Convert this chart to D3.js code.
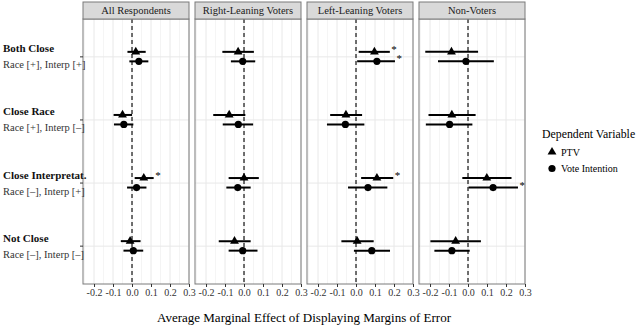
<!DOCTYPE html>
<html>
<head>
<meta charset="utf-8">
<script src="https://cdn.jsdelivr.net/npm/d3@7"></script>
<style>
  body { margin: 0; background: #fff; }
</style>
</head>
<body>
<div id="chart"></div>
<script>
const width = 640;
const height = 326;
const serif = "Liberation Serif, Times New Roman, serif";

// categories (top to bottom)
const groupTitles = ["Both Close", "Close Race", "Close Interpretat.", "Not Close"];
const groupSubs = ["Race [+], Interp [+]", "Race [+], Interp [\u2013]", "Race [\u2013], Interp [+]", "Race [\u2013], Interp [\u2013]"];
const panels = ["All Respondents", "Right-Leaning Voters", "Left-Leaning Voters", "Non-Voters"];
const xTicks = [-0.2, -0.1, 0.0, 0.1, 0.2, 0.3];
const xMinor = [-0.25, -0.15, -0.05, 0.05, 0.15, 0.25];
const seriesNames = ["PTV", "Vote Intention"];

// [estimate, lower, upper] per category, one array per panel and series
const allPTV   = [[0.020, -0.024, 0.072], [-0.050, -0.097, 0.000], [0.062, 0.014, 0.114], [-0.010, -0.059, 0.045]];
const allVote  = [[0.036, -0.014, 0.086], [-0.043, -0.095, 0.007], [0.024, -0.026, 0.076], [0.007, -0.045, 0.059]];
const rightPTV = [[-0.031, -0.114, 0.052], [-0.078, -0.162, 0.007], [0.000, -0.081, 0.078], [-0.050, -0.133, 0.035]];
const rightVote= [[-0.007, -0.069, 0.059], [-0.030, -0.112, 0.048], [-0.033, -0.093, 0.035], [-0.007, -0.081, 0.071]];
const leftPTV  = [[0.097, 0.014, 0.178], [-0.053, -0.136, 0.032], [0.110, 0.027, 0.196], [0.006, -0.077, 0.093]];
const leftVote = [[0.110, 0.006, 0.205], [-0.056, -0.153, 0.044], [0.063, -0.042, 0.165], [0.083, -0.011, 0.179]];
const nonPTV   = [[-0.087, -0.225, 0.053], [-0.085, -0.208, 0.040], [0.099, -0.030, 0.229], [-0.065, -0.198, 0.068]];
const nonVote  = [[-0.011, -0.158, 0.136], [-0.097, -0.222, 0.023], [0.132, 0.003, 0.263], [-0.085, -0.177, 0.009]];

// significance stars (1 = starred)
const allSig   = [[0, 0], [0, 0], [1, 0], [0, 0]];
const rightSig = [[0, 0], [0, 0], [0, 0], [0, 0]];
const leftSig  = [[1, 1], [0, 0], [1, 0], [0, 0]];
const nonSig   = [[0, 0], [0, 0], [0, 1], [0, 0]];

const panelData = [
  { ptv: allPTV, vote: allVote, sig: allSig },
  { ptv: rightPTV, vote: rightVote, sig: rightSig },
  { ptv: leftPTV, vote: leftVote, sig: leftSig },
  { ptv: nonPTV, vote: nonVote, sig: nonSig }
];

const panelLeft = 83, panelW = 106, panelGap = 6;
const stripTop = 2, plotTop = 19, plotBottom = 284;

const x = d3.scaleLinear().domain([-0.258, 0.3]).range([0, panelW]);
const y = d3.scalePoint().domain(d3.range(4)).range([plotTop, plotBottom]).padding(0.6);
const offset = [-5, 4.5];

const svg = d3.select("#chart").append("svg")
  .attr("width", width)
  .attr("height", height)
  .attr("viewBox", `0 0 ${width} ${height}`)
  .attr("font-family", serif);

const triangle = d3.symbol().type(d3.symbolTriangle).size(34);

panels.forEach((name, p) => {
  const g = svg.append("g").attr("transform", `translate(${panelLeft + p * (panelW + panelGap)},0)`);
  const pd = panelData[p];

  // background grid
  g.selectAll(".minor").data(xMinor).join("line")
    .attr("x1", d => x(d)).attr("x2", d => x(d))
    .attr("y1", plotTop).attr("y2", plotBottom)
    .attr("stroke", "#f1f1f1").attr("stroke-width", 0.8);
  g.selectAll(".major").data(xTicks).join("line")
    .attr("x1", d => x(d)).attr("x2", d => x(d))
    .attr("y1", plotTop).attr("y2", plotBottom)
    .attr("stroke", "#e8e8e8").attr("stroke-width", 1);
  g.selectAll(".hgrid").data(d3.range(4)).join("line")
    .attr("x1", 0).attr("x2", panelW)
    .attr("y1", d => y(d)).attr("y2", d => y(d))
    .attr("stroke", "#e8e8e8").attr("stroke-width", 1);

  // zero line
  g.append("line")
    .attr("x1", x(0)).attr("x2", x(0))
    .attr("y1", plotTop).attr("y2", plotBottom)
    .attr("stroke", "#000").attr("stroke-width", 1.1)
    .attr("stroke-dasharray", "4,3");

  [pd.ptv, pd.vote].forEach((ser, s) => {
    ser.forEach((d, i) => {
      const yy = y(i) + offset[s];
      g.append("line")
        .attr("x1", x(d[1])).attr("x2", x(d[2]))
        .attr("y1", yy).attr("y2", yy)
        .attr("stroke", "#000").attr("stroke-width", 2);
      if (s === 0) {
        g.append("path").attr("d", triangle)
          .attr("transform", `translate(${x(d[0])},${yy})`)
          .attr("fill", "#000");
      } else {
        g.append("circle").attr("cx", x(d[0])).attr("cy", yy).attr("r", 3.6).attr("fill", "#000");
      }
      if (pd.sig[i][s]) {
        g.append("text")
          .attr("x", x(d[2]) + 1.5).attr("y", yy + 1)
          .attr("font-size", 11).attr("font-family", serif).attr("fill", "#000").text("*");
      }
    });
  });

  // panel border
  g.append("rect")
    .attr("x", 0).attr("y", plotTop).attr("width", panelW).attr("height", plotBottom - plotTop)
    .attr("fill", "none").attr("stroke", "#7a7a7a").attr("stroke-width", 1);

  // strip
  g.append("rect")
    .attr("x", 0).attr("y", stripTop).attr("width", panelW).attr("height", plotTop - stripTop)
    .attr("fill", "#d9d9d9").attr("stroke", "#7a7a7a").attr("stroke-width", 1);
  g.append("text")
    .attr("x", panelW / 2).attr("y", (stripTop + plotTop) / 2 + 3.8)
    .attr("text-anchor", "middle").attr("font-size", 10.5).attr("fill", "#1a1a1a")
    .attr("font-family", serif)
    .text(name);

  // x axis
  const ax = g.append("g").attr("transform", `translate(0,${plotBottom})`)
    .call(d3.axisBottom(x).tickValues(xTicks).tickSize(3).tickPadding(2).tickFormat(d => d.toFixed(1)));
  ax.attr("font-family", serif);
  ax.select(".domain").remove();
  ax.selectAll(".tick line").attr("stroke", "#333");
  ax.selectAll("text").attr("font-size", 10).attr("fill", "#333")
    .attr("font-family", serif);
});

// y axis labels
const ya = svg.append("g");
d3.range(4).forEach(i => {
  ya.append("line")
    .attr("x1", panelLeft - 3).attr("x2", panelLeft)
    .attr("y1", y(i)).attr("y2", y(i))
    .attr("stroke", "#333");
  ya.append("text")
    .attr("x", 3).attr("y", y(i) - 4.5)
    .attr("font-size", 11).attr("font-weight", "bold").attr("fill", "#111")
    .attr("font-family", serif)
    .text(groupTitles[i]);
  ya.append("text")
    .attr("x", 3).attr("y", y(i) + 11.5)
    .attr("font-size", 10.5).attr("fill", "#333")
    .attr("font-family", serif)
    .text(groupSubs[i]);
});

// x axis title
svg.append("text")
  .attr("x", 304).attr("y", 322)
  .attr("text-anchor", "middle").attr("font-size", 13).attr("font-family", serif)
  .text("Average Marginal Effect of Displaying Margins of Error");

// legend
const lg = svg.append("g");
lg.append("text").attr("x", 542).attr("y", 138).attr("font-size", 11.8)
  .attr("font-family", serif).text("Dependent Variable");
seriesNames.forEach((nm, s) => {
  const ly = 152 + s * 16.5;
  if (s === 0) {
    lg.append("path").attr("d", triangle).attr("transform", `translate(552,${ly})`).attr("fill", "#000");
  } else {
    lg.append("circle").attr("cx", 552).attr("cy", ly).attr("r", 3.6).attr("fill", "#000");
  }
  lg.append("text").attr("x", 561).attr("y", ly + 3.5).attr("font-size", 10)
    .attr("font-family", serif).text(nm);
});
</script>
</body>
</html>
